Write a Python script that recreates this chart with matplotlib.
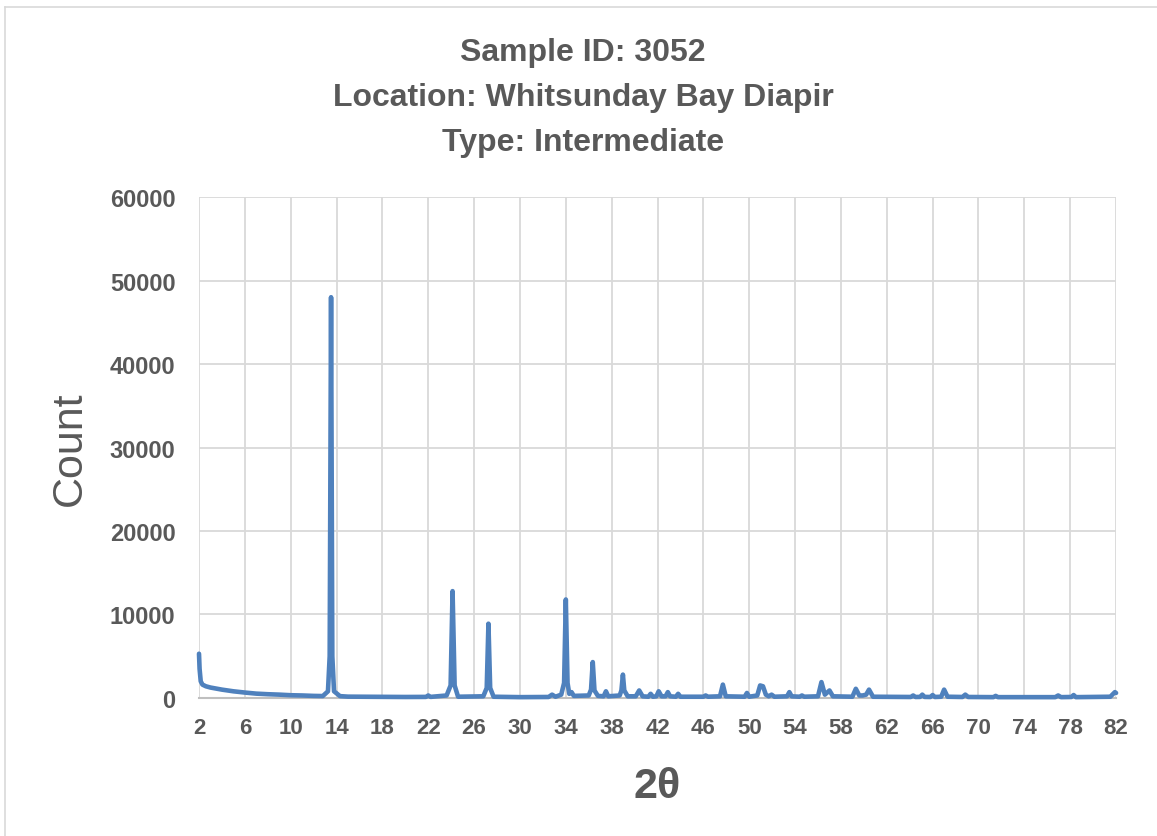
import matplotlib.pyplot as plt
from matplotlib import font_manager

# Diffractogram trace (2-theta, count)
two_theta = [2.0, 2.05, 2.15, 2.3, 2.6, 3.0, 4.0, 5.0, 6.0, 7.0, 8.0, 9.0, 10.0, 11.0,
             12.0, 12.8, 13.25, 13.4, 13.52, 13.63, 13.78, 14.3, 15.0, 16.0, 18.0, 20.0,
             21.8, 22.0, 22.2, 23.6, 23.95, 24.12, 24.3, 24.6, 26.8, 27.1, 27.25, 27.4,
             27.7, 30.0, 32.5, 32.8, 33.1, 33.6, 33.85, 34.0, 34.15, 34.3, 34.5, 34.7,
             36.0, 36.2, 36.35, 36.5, 36.8, 37.3, 37.5, 37.7, 38.7, 38.85, 38.98, 39.1,
             39.4, 40.1, 40.4, 40.7, 41.2, 41.4, 41.6, 41.9, 42.1, 42.35, 42.7, 42.9,
             43.1, 43.6, 43.8, 44.0, 46.0, 46.2, 46.4, 47.45, 47.7, 47.95, 49.6, 49.8,
             50.0, 50.7, 50.95, 51.2, 51.45, 51.7, 51.95, 52.2, 53.3, 53.5, 53.7, 54.4,
             54.6, 54.8, 56.0, 56.3, 56.6, 57.0, 57.3, 59.0, 59.3, 59.6, 59.9, 60.2,
             60.45, 60.8, 64.1, 64.3, 64.5, 64.9, 65.1, 65.3, 65.8, 66.0, 66.2, 66.75,
             67.0, 67.3, 68.6, 68.85, 69.1, 71.3, 71.5, 71.7, 76.7, 76.95, 77.2, 78.1,
             78.3, 78.5, 81.5, 81.9, 82.0]
counts = [5300, 3500, 2000, 1600, 1400, 1250, 1000, 800, 650, 520, 450, 400, 330, 300,
          250, 230, 800, 5000, 48000, 5000, 800, 220, 160, 150, 130, 120,
          130, 300, 130, 300, 1500, 12800, 1500, 150, 200, 1200, 8900, 1200,
          150, 100, 120, 400, 150, 400, 1800, 11800, 1800, 500, 700, 250,
          300, 1000, 4300, 900, 250, 200, 800, 200, 300, 900, 2800, 900,
          200, 200, 900, 200, 150, 500, 150, 200, 800, 200, 200, 700,
          200, 150, 500, 150, 150, 300, 150, 200, 1600, 200, 150, 600,
          150, 300, 1500, 1400, 400, 200, 400, 150, 200, 700, 200, 150,
          300, 150, 200, 1900, 400, 900, 200, 150, 1100, 300, 300, 400,
          1000, 150, 120, 300, 120, 130, 400, 130, 120, 350, 120, 150,
          1000, 150, 120, 400, 120, 100, 250, 100, 100, 300, 100, 120,
          350, 100, 150, 700, 600]

x_ticks = list(range(2, 83, 4))
y_ticks = [0, 10000, 20000, 30000, 40000, 50000, 60000]

title_lines = ["Sample ID: 3052", "Location: Whitsunday Bay Diapir", "Type: Intermediate"]

names = {f.name for f in font_manager.fontManager.ttflist}
base_font = "Liberation Sans Narrow" if "Liberation Sans Narrow" in names else "Liberation Sans"
plt.rcParams['font.family'] = [base_font, 'DejaVu Sans']

text_col = "#595959"
line_col = "#4F81BD"
grid_col = "#D9D9D9"

fig = plt.figure(figsize=(11.57, 8.37), dpi=100)
ax = fig.add_axes([0.172, 0.1649, 0.7926, 0.5985])

ax.plot(two_theta, counts, color=line_col, linewidth=3.3, solid_joinstyle='round',
        solid_capstyle='round', clip_on=False, zorder=3)

ax.set_xlim(2, 82)
ax.set_ylim(0, 60000)
ax.set_xticks(x_ticks)
ax.set_yticks(y_ticks)
ax.set_xticklabels([str(t) for t in x_ticks], fontsize=16, fontweight='bold', color=text_col)
ax.set_yticklabels([str(t) for t in y_ticks], fontsize=17, fontweight='bold', color=text_col)
ax.tick_params(axis='both', length=0)
ax.tick_params(axis='x', pad=14)
ax.tick_params(axis='y', pad=17)

ax.grid(True, color=grid_col, linewidth=1.3)
ax.set_axisbelow(True)
for s in ['top', 'right', 'left']:
    ax.spines[s].set_visible(False)
ax.spines['bottom'].set_color("#BFBFBF")
ax.spines['bottom'].set_linewidth(1.5)

ax.set_ylabel("Count", fontsize=31, color=text_col, labelpad=14)
ax.set_xlabel("2θ", fontsize=31, fontweight='bold', color=text_col, labelpad=20)

for i, line in enumerate(title_lines):
    fig.text(0.504, 1 - (53 + 45 * i) / 837, line, ha='center', va='center',
             fontsize=23, fontweight='bold', color=text_col)

# chart area border
fig.add_artist(plt.Line2D([0.004, 1.0], [0.991, 0.991], color="#D9D9D9", linewidth=1.2))
fig.add_artist(plt.Line2D([0.004, 0.004], [0.0, 0.991], color="#D9D9D9", linewidth=1.2))

fig.savefig("out.png", dpi=100)
